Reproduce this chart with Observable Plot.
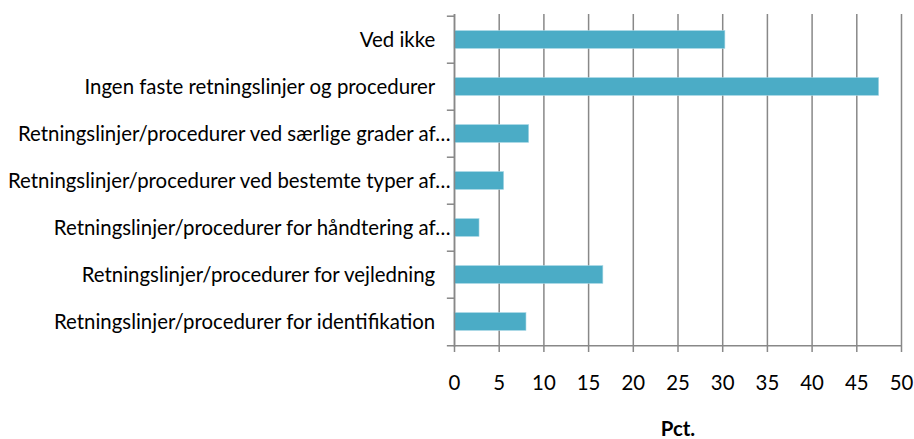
<!DOCTYPE html>
<html>
<head>
<meta charset="utf-8">
<script src="https://cdn.jsdelivr.net/npm/d3@7"></script>
<script src="https://cdn.jsdelivr.net/npm/@observablehq/plot@0.6"></script>
<style>
  html, body { margin: 0; padding: 0; background: #fff; }
  #chart { width: 914px; height: 439px; }
</style>
</head>
<body>
<div id="chart"></div>
<script>
const categories = [
  "Ved ikke\u2003",
  "Ingen faste retningslinjer og procedurer\u2003",
  "Retningslinjer/procedurer ved særlige grader af…",
  "Retningslinjer/procedurer ved bestemte typer af…",
  "Retningslinjer/procedurer for håndtering af…",
  "Retningslinjer/procedurer for vejledning\u2003",
  "Retningslinjer/procedurer for identifikation\u2003"
];
const values = [30.3, 47.5, 8.35, 5.55, 2.8, 16.65, 8.05];
const xTicks = [0, 5, 10, 15, 20, 25, 30, 35, 40, 45, 50];
const xLabel = "Pct.";

const data = categories.map((c, i) => ({category: c, value: values[i]}));

const width = 914, height = 439;
const marginLeft = 454, marginRight = 13, marginTop = 14, marginBottom = 92;
const bandH = (height - marginTop - marginBottom) / categories.length;
const font = "Lato, 'Open Sans', sans-serif";
const fs = 20.4;

const plot = Plot.plot({
  width, height, marginLeft, marginRight, marginTop, marginBottom,
  style: {fontFamily: font, fontSize: fs + "px", color: "#000", background: "#fff"},
  x: {domain: [0, 50], ticks: xTicks},
  y: {domain: categories, padding: 0},
  marks: [
    // vertical gridlines (extend below axis as tick marks)
    Plot.ruleX(xTicks, {x: d => d, stroke: "#888", strokeWidth: 1.5, strokeOpacity: 1, insetBottom: -5}),
    // bars
    Plot.barX(data, {x: "value", y: "category", fill: "#4bacc6", stroke: "#a6d6e5", strokeWidth: 0.6,
      insetTop: 14.6, insetBottom: 14.6}),
    // left axis line
    Plot.ruleX([0], {stroke: "#888", strokeWidth: 1.5}),
    // y tick marks at band boundaries (top of each band)
    Plot.ruleY(categories, {y: d => d, x1: -0.8, x2: 0, dy: -bandH / 2, stroke: "#888", strokeWidth: 1.5}),
    // bottom axis line extending left as last tick
    Plot.ruleY(categories.slice(-1), {y: d => d, x1: -0.8, x2: 50, dy: bandH / 2, stroke: "#888", strokeWidth: 1.5}),
    Plot.axisY({tickSize: 0, tickPadding: 4, label: null, fontSize: fs}),
    Plot.axisX({ticks: xTicks, tickSize: 0, tickPadding: 28, label: null, fontSize: fs}),
    Plot.text([xLabel], {frameAnchor: "bottom", text: d => d, fontWeight: "bold", fontSize: fs,
      x: () => 25, dy: 82, lineAnchor: "middle"})
  ]
});
document.getElementById("chart").appendChild(plot);
</script>
</body>
</html>
